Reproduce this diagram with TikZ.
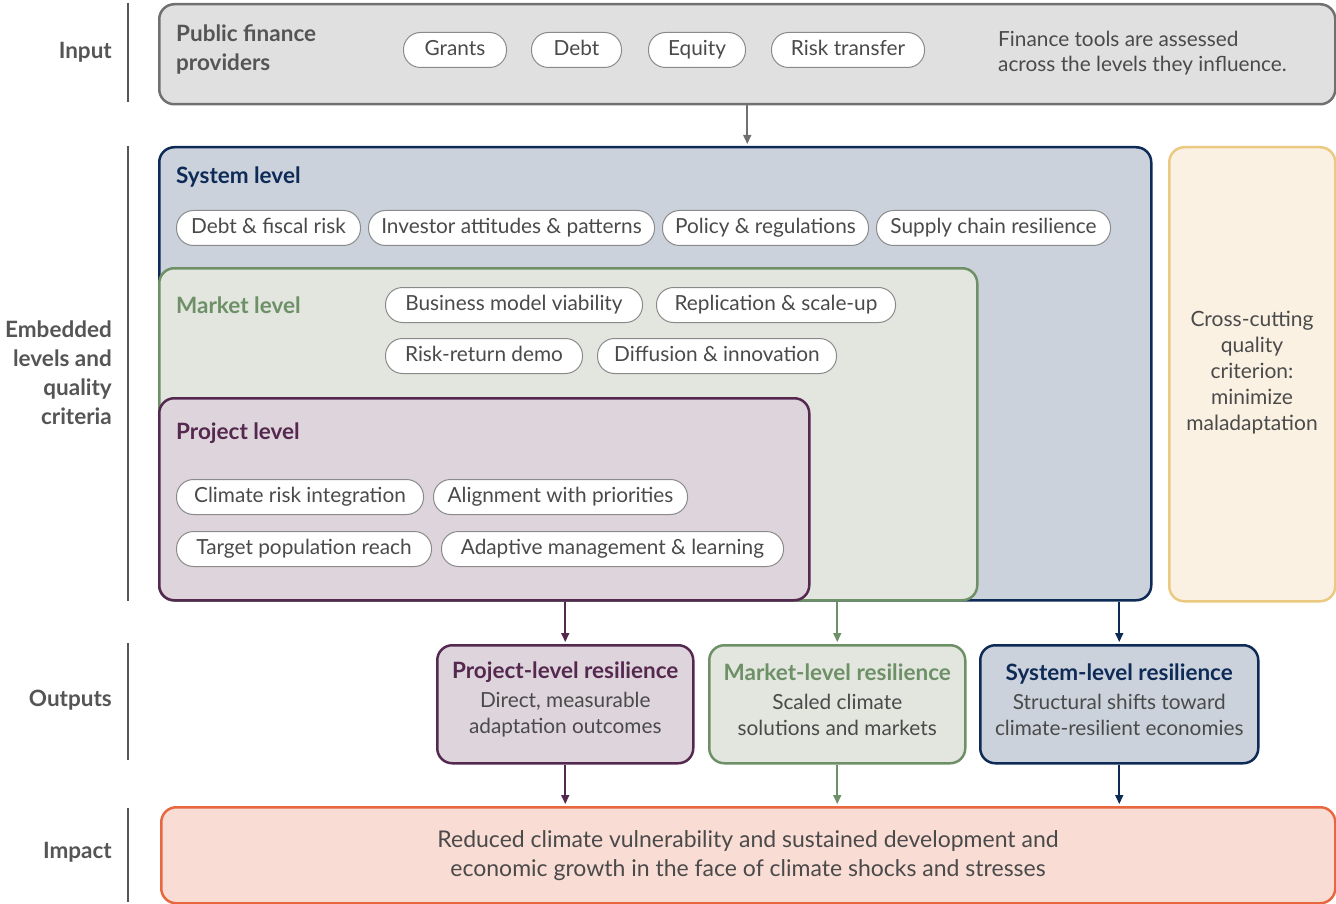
\documentclass[tikz,border=0pt]{standalone}
\usepackage{fontspec}
\setmainfont{Lato}
\usetikzlibrary{arrows.meta}
\definecolor{txt}{HTML}{4A4A4A}
\definecolor{lbl}{HTML}{555555}
\definecolor{inpfill}{HTML}{E0E0E0}
\definecolor{inpline}{HTML}{707070}
\definecolor{sysfill}{HTML}{CBD2DC}
\definecolor{sysline}{HTML}{0E2A57}
\definecolor{mktfill}{HTML}{E2E6DF}
\definecolor{mktline}{HTML}{6E9067}
\definecolor{prjfill}{HTML}{DED4DC}
\definecolor{prjline}{HTML}{55294F}
\definecolor{crsfill}{HTML}{FAF1E3}
\definecolor{crsline}{HTML}{EBC980}
\definecolor{impfill}{HTML}{F9DCD4}
\definecolor{impline}{HTML}{E8673F}
\definecolor{pillline}{HTML}{8A8A8A}
\tikzset{
  pill/.style={draw=pillline, fill=white, rounded corners=17pt, minimum height=35pt,
    inner xsep=10pt, inner ysep=0pt, line width=1pt, anchor=west,
    text height=15pt, text depth=3.5pt},
  box/.style={rounded corners=15pt, line width=2.5pt, anchor=north west, inner sep=0pt},
  ttl/.style={anchor=west, font=\fontsize{22.5}{29}\selectfont\bfseries, align=left, inner sep=0pt},
  side/.style={anchor=east, font=\fontsize{22.5}{29}\selectfont\bfseries, text=lbl, align=right, inner sep=0pt},
  bar/.style={draw=lbl, line width=2pt},
  conn/.style={line width=1.6pt, -{Triangle[length=9pt,width=8pt]}, shorten >=2pt},
  outbox/.style={box, anchor=north west, align=center},
}
\begin{document}
\begin{tikzpicture}[x=1pt,y=-1pt, font=\fontsize{20.8}{25}\selectfont, text=txt]
\useasboundingbox (0,0) rectangle (1336,904);

% side labels and bars
\node[side] (lin) at (112,52) {Input};
\node[side] (lemb) at (112,373) {Embedded\\levels and\\quality\\criteria};
\node[side] (lout) at (112,700) {Outputs};
\node[side] (limp) at (112,852) {Impact};
\draw[bar] (128,3) -- (128,102);
\draw[bar] (128,146) -- (128,601);
\draw[bar] (128,643) -- (128,760);
\draw[bar] (128,808) -- (128,902);

% input
\node[box, draw=inpline, fill=inpfill, minimum width=1176pt, minimum height=100pt] (inp) at (158,3) {};
\node[ttl, text=lbl] (inpt) at (176,50) {Public finance\\providers};
\node[pill, minimum width=103pt] (p1) at (403,50) {Grants};
\node[pill, minimum width=90pt] (p2) at (531,50) {Debt};
\node[pill, minimum width=97pt] (p3) at (648,50) {Equity};
\node[pill, minimum width=153pt] (p4) at (771,50) {Risk transfer};
\node[anchor=west, align=left, inner sep=0pt] (inpn) at (998,53) {Finance tools are assessed\\across the levels they influence.};

% system
\node[box, draw=sysline, fill=sysfill, minimum width=992pt, minimum height=453pt] (sys) at (158,146) {};
\node[ttl, text=sysline] (syst) at (176,177) {System level};
\node[pill, minimum width=184pt] (s1) at (176,228) {Debt \& fiscal risk};
\node[pill, minimum width=286pt] (s2) at (368,228) {Investor attitudes \& patterns};
\node[pill, minimum width=206pt] (s3) at (662,228) {Policy \& regulations};
\node[pill, minimum width=234pt] (s4) at (876,228) {Supply chain resilience};

% market
\node[box, draw=mktline, fill=mktfill, minimum width=818pt, minimum height=332pt] (mkt) at (158,267) {};
\node[ttl, text=mktline] (mktt) at (176,305) {Market level};
\node[pill, minimum width=257pt] (m1) at (385,305) {Business model viability};
\node[pill, minimum width=239pt] (m2) at (656,305) {Replication \& scale-up};
\node[pill, minimum width=197pt] (m3) at (385,356) {Risk-return demo};
\node[pill, minimum width=239pt] (m4) at (597,356) {Diffusion \& innovation};

% project
\node[box, draw=prjline, fill=prjfill, minimum width=650pt, minimum height=202pt] (prj) at (158,397) {};
\node[ttl, text=prjline] (prjt) at (176,433) {Project level};
\node[pill, minimum width=247pt] (q1) at (176,497) {Climate risk integration};
\node[pill, minimum width=254pt] (q2) at (433,497) {Alignment with priorities};
\node[pill, minimum width=255pt] (q3) at (176,549) {Target population reach};
\node[pill, minimum width=342pt] (q4) at (441,549) {Adaptive management \& learning};

% cross-cutting
\node[box, draw=crsline, fill=crsfill, minimum width=166pt, minimum height=454pt] (crs) at (1168,146) {};
\node[align=center, font=\fontsize{21}{26}\selectfont, inner sep=0pt] (crst) at (1252,373) {Cross-cutting\\quality\\criterion:\\minimize\\maladaptation};

% outputs
\node[outbox, draw=prjline, fill=prjfill, minimum width=256pt, minimum height=118pt] (pout) at (436,644) {};
\node[align=center, inner sep=0pt, font=\fontsize{20.8}{26}\selectfont] (poutt) at ([yshift=5pt]pout.center) {{\fontsize{22.5}{26}\selectfont\bfseries\color{prjline}Project-level resilience}\\[3pt]Direct, measurable\\adaptation outcomes};
\node[outbox, draw=mktline, fill=mktfill, minimum width=256pt, minimum height=118pt] (mout) at (708,644) {};
\node[align=center, inner sep=0pt, font=\fontsize{20.8}{26}\selectfont] (moutt) at ([yshift=5pt]mout.center) {{\fontsize{22.5}{26}\selectfont\bfseries\color{mktline}Market-level resilience}\\[3pt]Scaled climate\\solutions and markets};
\node[outbox, draw=sysline, fill=sysfill, minimum width=278pt, minimum height=118pt] (sout) at (979,644) {};
\node[align=center, inner sep=0pt, font=\fontsize{20.8}{26}\selectfont] (soutt) at ([yshift=5pt]sout.center) {{\fontsize{22.5}{26}\selectfont\bfseries\color{sysline}System-level resilience}\\[3pt]Structural shifts toward\\climate-resilient economies};

% impact
\node[box, draw=impline, fill=impfill, minimum width=1174pt, minimum height=96pt] (imp) at (160,806) {};
\node[align=center, font=\fontsize{23}{29}\selectfont, inner sep=0pt] (impt) at (748,856) {Reduced climate vulnerability and sustained development and\\economic growth in the face of climate shocks and stresses};

% connectors
\draw[conn, draw=inpline, fill=inpline] (inp.south) -- (inp.south |- sys.north);
\draw[conn, draw=prjline, fill=prjline] (pout.north |- prj.south) -- (pout.north);
\draw[conn, draw=mktline, fill=mktline] (mout.north |- mkt.south) -- (mout.north);
\draw[conn, draw=sysline, fill=sysline] (sout.north |- sys.south) -- (sout.north);
\draw[conn, draw=prjline, fill=prjline] (pout.south) -- (pout.south |- imp.north);
\draw[conn, draw=mktline, fill=mktline] (mout.south) -- (mout.south |- imp.north);
\draw[conn, draw=sysline, fill=sysline] (sout.south) -- (sout.south |- imp.north);
\end{tikzpicture}
\end{document}
